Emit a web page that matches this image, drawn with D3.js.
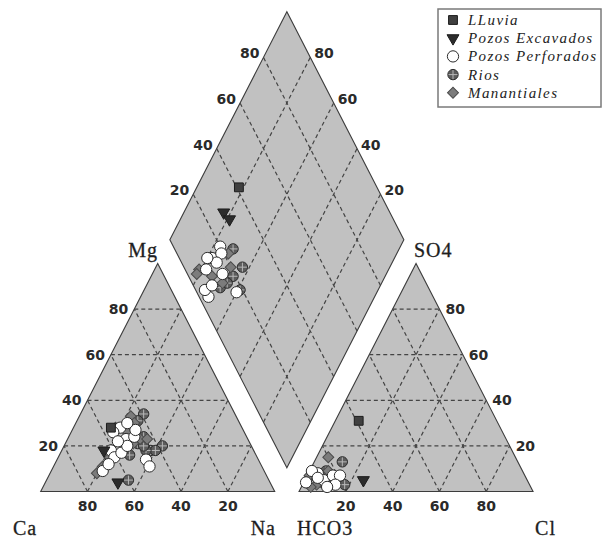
<!DOCTYPE html>
<html>
<head>
<meta charset="utf-8">
<script src="https://cdn.jsdelivr.net/npm/d3@7"></script>
<style>
body { margin: 0; background: #fff; }
</style>
</head>
<body>
<svg id="piper" width="603" height="538"></svg>
<script>
// series shown in the legend
const seriesNames = ["LLuvia", "Pozos Excavados", "Pozos Perforados", "Rios", "Manantiales"];
const gridTicks = [20, 40, 60, 80];

// cation triangle, [Mg %, Na %]
const cationLluvia = [[28, 16]];
const cationExcavados = [[4, 31], [18, 18]];
const cationPerforados = [[28, 20], [26, 18], [23, 25], [18, 21], [15, 24], [17, 26], [20, 27], [24, 28], [14, 38], [11, 41], [9, 22], [27, 27], [30, 22], [12, 23], [22, 22]];
const cationRios = [[34, 27], [31, 26], [25, 27], [18, 38], [20, 42], [18, 40], [21, 31], [5, 35], [18, 36], [22, 33], [20, 34], [24, 32], [16, 30]];
const cationManantiales = [[33, 22], [30, 25], [11, 21], [15, 22], [23, 31], [23, 34], [28, 18], [26, 24], [21, 29], [19, 27], [8, 20]];

// anion triangle, [SO4 %, Cl %]
const anionLluvia = [[31, 10]];
const anionExcavados = [[5, 25]];
const anionPerforados = [[8, 4], [5, 8], [7, 11], [7, 14], [3, 14], [4, 1], [9, 1], [2, 11], [6, 5]];
const anionRios = [[4, 8], [5, 11], [5, 14], [3, 18], [9, 7], [13, 12], [7, 3]];
const anionManantiales = [[5, 1], [7, 1], [3, 6], [9, 8], [15, 5], [2, 4], [4, 10]];

// diamond, [Ca+Mg %, SO4+Cl %]
const diamondLluvia = [[82, 41]];
const diamondExcavados = [[83, 29], [79, 30]];
const diamondPerforados = [[77, 20], [78, 14], [75, 19], [70, 15], [78, 9], [71, 4], [74, 4], [60, 17], [75, 15], [80, 12], [72, 8]];
const diamondRios = [[71, 25], [63, 25], [59, 19], [65, 19], [68, 11], [66, 15]];
const diamondManantiales = [[81, 6], [74, 10], [68, 20], [68, 13], [81, 4], [76, 17], [72, 22]];

const gap = 10.4;
const svg = d3.select("#piper");

// one unit = 1 % along the base, vertical units are triangle height = 100
const xScale = d3.scaleLinear()
    .domain([0, 200 + gap])
    .range([40.7, 40.7 + (200 + gap) * 2.34]);
const yScale = d3.scaleLinear()
    .domain([0, 200 + gap])
    .range([491.5, 491.5 - (200 + gap) * 2.28]);

function cationPos(mg, na) {
    return [xScale(na + mg / 2), yScale(mg)];
}
function anionPos(so4, cl) {
    return [xScale(100 + gap + cl + so4 / 2), yScale(so4)];
}
function diamondPos(camg, so4cl) {
    return [xScale(100 + gap / 2 + (so4cl - camg) / 2), yScale(gap + camg + so4cl)];
}

const line = d3.line();

function drawShape(points) {
    svg.append("path")
        .attr("d", line(points) + "Z")
        .style("fill", "#c1c1c1")
        .style("stroke", "#3c3c3c")
        .style("stroke-width", 1.1);
}

function drawGrid(pairs) {
    svg.append("g").selectAll("path")
        .data(pairs)
        .enter().append("path")
        .attr("d", d => line(d))
        .style("fill", "none")
        .style("stroke", "#444")
        .style("stroke-width", 1.2)
        .style("stroke-dasharray", "4,3");
}

drawShape([cationPos(0, 0), cationPos(100, 0), cationPos(0, 100)]);
drawShape([anionPos(0, 0), anionPos(100, 0), anionPos(0, 100)]);
drawShape([diamondPos(0, 0), diamondPos(100, 0), diamondPos(100, 100), diamondPos(0, 100)]);

let cationGrid = [], anionGrid = [], diamondGrid = [];
gridTicks.forEach(k => {
    cationGrid.push([cationPos(k, 0), cationPos(k, 100 - k)]);
    cationGrid.push([cationPos(0, k), cationPos(100 - k, k)]);
    cationGrid.push([cationPos(0, 100 - k), cationPos(100 - k, 0)]);
    anionGrid.push([anionPos(k, 0), anionPos(k, 100 - k)]);
    anionGrid.push([anionPos(0, k), anionPos(100 - k, k)]);
    anionGrid.push([anionPos(0, 100 - k), anionPos(100 - k, 0)]);
    diamondGrid.push([diamondPos(k, 0), diamondPos(k, 100)]);
    diamondGrid.push([diamondPos(0, k), diamondPos(100, k)]);
});
drawGrid(cationGrid);
drawGrid(anionGrid);
drawGrid(diamondGrid);

// tick labels
function tickLabel(pos, dx, dy, anchor, k) {
    svg.append("text")
        .attr("x", pos[0] + dx)
        .attr("y", pos[1] + dy)
        .attr("text-anchor", anchor)
        .attr("dominant-baseline", "central")
        .style("font-family", "'DejaVu Sans', sans-serif")
        .style("font-weight", "bold")
        .style("font-size", "14px")
        .style("fill", "#2a2a2a")
        .text(k);
}
gridTicks.forEach(k => {
    tickLabel(cationPos(0, 100 - k), 0, 14, "middle", k);     // Ca along base
    tickLabel(cationPos(k, 0), -6, 0, "end", k);              // Mg on left edge
    tickLabel(anionPos(0, k), 0, 14, "middle", k);            // Cl along base
    tickLabel(anionPos(k, 100 - k), 6, 0, "start", k);        // SO4 on right edge
    tickLabel(diamondPos(100, k), -4, -4, "end", k);          // SO4+Cl
    tickLabel(diamondPos(k, 100), 4, -4, "start", k);         // Ca+Mg
});

// axis names
function axisName(txt, x, y, anchor) {
    svg.append("text")
        .attr("x", x)
        .attr("y", y)
        .attr("text-anchor", anchor)
        .style("font-family", "'Liberation Serif', serif")
        .style("font-size", "20px")
        .style("letter-spacing", "1px")
        .style("fill", "#1e1e1e")
        .style("stroke", "#1e1e1e")
        .style("stroke-width", 0.3)
        .text(txt);
}
axisName("Ca", 13, 535, "start");
axisName("Na", 276, 535, "end");
axisName("HCO3", 297, 535, "start");
axisName("Cl", 556, 535, "end");
axisName("Mg", 158, 257, "end");
axisName("SO4", 414, 257, "start");

// markers
const styles = [
    { sym: d3.symbolSquare, size: 78, rot: 0, fill: "#404040", stroke: "#1c1c1c" },
    { sym: d3.symbolTriangle, size: 62, rot: 180, fill: "#2c2c2c", stroke: "#1c1c1c" },
    { sym: d3.symbolCircle, size: 100, rot: 0, fill: "#ffffff", stroke: "#2c2c2c" },
    { sym: d3.symbolCircle, size: 85, rot: 0, fill: "#5c5c5c", stroke: "#2c2c2c" },
    { sym: d3.symbolSquare, size: 60, rot: 45, fill: "#7c7c7c", stroke: "#4a4a4a" }
];

function drawMarker(g, p, i) {
    const st = styles[i];
    g.append("path")
        .attr("transform", `translate(${p[0]},${p[1]}) rotate(${st.rot})`)
        .attr("d", d3.symbol().type(st.sym).size(st.size)())
        .style("fill", st.fill)
        .style("stroke", st.stroke)
        .style("stroke-width", 1);
    if (i == 3) {
        g.append("path")
            .attr("d", `M${p[0] - 4.5},${p[1]}H${p[0] + 4.5}M${p[0]},${p[1] - 4.5}V${p[1] + 4.5}`)
            .style("stroke", "#b8b8b8")
            .style("stroke-width", 1);
    }
}

function drawPoints(data, posFn, i) {
    const g = svg.append("g");
    data.forEach(d => drawMarker(g, posFn(d[0], d[1]), i));
}

const cationSets = [cationLluvia, cationExcavados, cationPerforados, cationRios, cationManantiales];
const anionSets = [anionLluvia, anionExcavados, anionPerforados, anionRios, anionManantiales];
const diamondSets = [diamondLluvia, diamondExcavados, diamondPerforados, diamondRios, diamondManantiales];
const drawOrder = [3, 4, 2, 1, 0];

drawOrder.forEach(i => {
    drawPoints(cationSets[i], cationPos, i);
    drawPoints(anionSets[i], anionPos, i);
    drawPoints(diamondSets[i], diamondPos, i);
});

// legend
const legendY = d3.scalePoint().domain(seriesNames).range([20, 92.8]);
const legend = svg.append("g");
legend.append("rect")
    .attr("x", 438)
    .attr("y", 9)
    .attr("width", 163)
    .attr("height", 98)
    .style("fill", "#fff")
    .style("stroke", "#7a7a7a")
    .style("stroke-width", 1.5);
seriesNames.forEach((name, i) => {
    drawMarker(legend, [453, legendY(name)], i);
    legend.append("text")
        .attr("x", 468)
        .attr("y", legendY(name))
        .attr("dominant-baseline", "central")
        .style("font-family", "'Liberation Serif', serif")
        .style("font-style", "italic")
        .style("font-size", "15px")
        .style("letter-spacing", "1.4px")
        .style("fill", "#222")
        .text(name);
});
</script>
</body>
</html>
